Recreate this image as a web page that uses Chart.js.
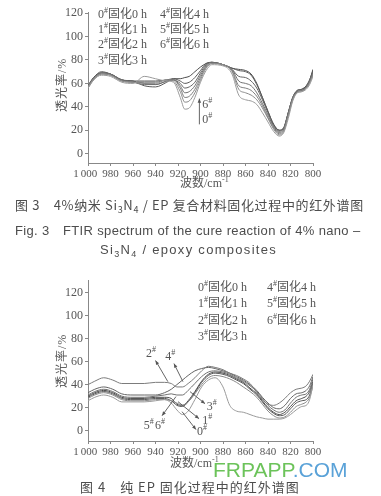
<!DOCTYPE html>
<html>
<head>
<meta charset="utf-8">
<script src="https://cdn.jsdelivr.net/npm/chart.js@4/dist/chart.umd.min.js"></script>
<style>
  html, body { margin:0; padding:0; background:#fff; }
  body { width:381px; height:496px; position:relative; overflow:hidden; }
  .abs { position:absolute; white-space:nowrap; color:#555; }
  .serif { font-family:"Liberation Serif","Noto Sans CJK SC",serif; font-size:12px; line-height:14px; }
  .cap { font-family:"Liberation Sans","Noto Sans CJK SC",sans-serif; font-size:13px; line-height:16px; color:#4d4d4d; }
  .cjk { font-family:"Noto Sans CJK SC",sans-serif; }
  sup.s { font-size:8px; vertical-align:5px; line-height:0; }
  sub.b { font-size:9px; vertical-align:-3px; line-height:0; }
  canvas { position:absolute; left:0; }
</style>
</head>
<body>
<canvas id="c1" width="381" height="200" style="top:0px"></canvas>
<canvas id="c2" width="381" height="200" style="top:265px"></canvas>

<!-- Fig 3 legend -->
<div class="abs serif" style="left:98px;top:7px">0<sup class="s">#</sup>固化0 h</div>
<div class="abs serif" style="left:98px;top:22px">1<sup class="s">#</sup>固化1 h</div>
<div class="abs serif" style="left:98px;top:37px">2<sup class="s">#</sup>固化2 h</div>
<div class="abs serif" style="left:98px;top:53px">3<sup class="s">#</sup>固化3 h</div>
<div class="abs serif" style="left:160px;top:7px">4<sup class="s">#</sup>固化4 h</div>
<div class="abs serif" style="left:160px;top:22px">5<sup class="s">#</sup>固化5 h</div>
<div class="abs serif" style="left:160px;top:37px">6<sup class="s">#</sup>固化6 h</div>
<div class="abs serif" style="left:36px;top:79px;transform:rotate(-90deg);transform-origin:26px 7px;width:52px;letter-spacing:1px">透光率/%</div>
<div class="abs serif" style="left:180px;top:176px">波数/cm<sup class="s">-1</sup></div>

<!-- Fig 3 caption -->
<div class="abs cap cjk" style="left:15px;top:197px;letter-spacing:0.65px">图 3　4%纳米 Si<sub class="b">3</sub>N<sub class="b">4</sub> / EP 复合材料固化过程中的红外谱图</div>
<div class="abs cap" style="left:15px;top:223px;letter-spacing:0.35px">Fig. 3　FTIR spectrum of the cure reaction of 4% nano –</div>
<div class="abs cap" style="left:100px;top:242px;letter-spacing:1.3px">Si<sub class="b">3</sub>N<sub class="b">4</sub> / epoxy composites</div>

<!-- Fig 4 legend -->
<div class="abs serif" style="left:198px;top:280px">0<sup class="s">#</sup>固化0 h</div>
<div class="abs serif" style="left:198px;top:296px">1<sup class="s">#</sup>固化1 h</div>
<div class="abs serif" style="left:198px;top:313px">2<sup class="s">#</sup>固化2 h</div>
<div class="abs serif" style="left:198px;top:329px">3<sup class="s">#</sup>固化3 h</div>
<div class="abs serif" style="left:267px;top:280px">4<sup class="s">#</sup>固化4 h</div>
<div class="abs serif" style="left:267px;top:296px">5<sup class="s">#</sup>固化5 h</div>
<div class="abs serif" style="left:267px;top:313px">6<sup class="s">#</sup>固化6 h</div>
<div class="abs serif" style="left:36px;top:355px;transform:rotate(-90deg);transform-origin:26px 7px;width:52px;letter-spacing:1px">透光率/%</div>
<div class="abs serif" style="left:170px;top:456px">波数/cm<sup class="s">-1</sup></div>

<!-- Fig 4 caption -->
<div class="abs cap cjk" style="left:80px;top:479px;letter-spacing:1px">图 4　纯 EP 固化过程中的红外谱图</div>

<!-- watermark -->
<div class="abs" style="left:213px;top:457px;font-family:'Liberation Sans',sans-serif;font-size:21px;line-height:26px"><span style="color:#6cc35a">FRPAPP</span><span style="color:#5aa2d8">.COM</span></div>

<script>
// ---------- Fig 3 data (4% nano Si3N4/EP) ----------
const wave3 = [1000, 995, 988, 980, 970, 960, 950, 940, 930, 924, 918, 914, 910, 905, 900, 895, 890, 880, 872, 866, 860, 855, 850, 845, 840, 835, 830, 826, 822, 818, 814, 810, 806, 803, 800];
const fig3_0h = [56, 63, 67, 66, 61, 60, 66, 64, 62, 61, 48, 38, 39, 48, 61, 71, 76, 75, 68, 50, 46, 45, 42, 35, 27, 19, 15, 18, 30, 45, 52, 53, 55, 59, 66];
const fig3_1h = [57, 64, 68, 67, 62, 61, 60, 60, 63, 62, 53, 44, 45, 52, 63, 73, 77, 76, 70, 55, 52, 50, 46, 39, 30, 21, 16, 19, 32, 46, 52, 53, 56, 60, 67];
const fig3_2h = [56, 63, 68, 67, 62, 61, 61, 61, 63, 63, 56, 48, 49, 55, 65, 74, 77, 76, 71, 58, 56, 54, 49, 41, 31, 22, 17, 20, 33, 47, 53, 54, 56, 61, 68];
const fig3_3h = [57, 64, 69, 68, 63, 61, 59, 59, 62, 63, 58, 52, 53, 58, 67, 75, 78, 76, 72, 62, 60, 58, 52, 43, 33, 23, 18, 21, 34, 47, 53, 54, 57, 62, 69];
const fig3_4h = [58, 64, 69, 68, 63, 62, 60, 59, 62, 63, 60, 56, 57, 61, 69, 76, 78, 76, 72, 66, 65, 62, 56, 46, 35, 24, 19, 22, 35, 48, 53, 54, 57, 62, 70];
const fig3_5h = [58, 65, 70, 68, 63, 62, 58, 57, 61, 64, 62, 60, 61, 65, 71, 77, 78, 76, 73, 71, 70, 67, 59, 48, 36, 25, 20, 22, 35, 48, 54, 55, 58, 63, 71];
const fig3_6h = [58, 65, 69, 68, 63, 62, 62, 62, 63, 64, 64, 65, 66, 70, 74, 77, 78, 76, 73, 72, 71, 68, 60, 48, 36, 25, 20, 22, 35, 48, 54, 55, 58, 63, 72];

// ---------- Fig 4 data (pure EP) ----------
const wave4 = [1000, 994, 986, 978, 970, 960, 950, 940, 932, 926, 921, 916, 911, 905, 899, 893, 887, 880, 874, 868, 862, 856, 850, 845, 840, 835, 830, 825, 820, 815, 810, 806, 803, 800];
const fig4_0h = [26, 29, 31, 29, 25, 25, 25, 26, 27, 24, 18, 14, 17, 27, 38, 44, 46, 38, 22, 17, 16, 14, 12, 11, 10, 10, 10, 11, 14, 18, 21, 22, 27, 40];
const fig4_1h = [28, 31, 33, 31, 27, 26, 26, 27, 27, 26, 24, 22, 25, 32, 40, 46, 48, 47, 45, 42, 38, 34, 29, 23, 17, 13, 11, 12, 16, 21, 23, 25, 29, 39];
const fig4_2h = [40, 43, 46, 44, 41, 41, 41, 42, 42, 41, 38, 38, 41, 46, 52, 56, 55, 53, 50, 48, 45, 41, 33, 27, 23, 22, 24, 28, 33, 36, 37, 39, 43, 49];
const fig4_3h = [31, 34, 36, 34, 30, 29, 29, 30, 31, 32, 31, 31, 35, 41, 47, 51, 52, 51, 49, 46, 43, 39, 34, 28, 22, 18, 16, 18, 24, 29, 31, 32, 36, 45];
const fig4_4h = [33, 36, 38, 36, 32, 31, 31, 31, 33, 36, 40, 44, 48, 52, 54, 55, 54, 52, 50, 47, 44, 40, 35, 29, 24, 20, 19, 22, 28, 32, 33, 35, 39, 47];
const fig4_5h = [29, 32, 34, 32, 28, 27, 27, 28, 28, 26, 22, 21, 25, 33, 42, 48, 50, 49, 47, 44, 41, 36, 31, 25, 19, 15, 13, 14, 19, 24, 26, 27, 31, 41];
const fig4_6h = [30, 33, 35, 33, 29, 28, 28, 29, 29, 28, 23, 22, 26, 34, 43, 49, 51, 50, 48, 45, 42, 37, 32, 26, 20, 16, 14, 16, 21, 26, 28, 30, 34, 43];

// tick values
const xTicks = [1000, 980, 960, 940, 920, 900, 880, 860, 840, 820, 800];
const yTicks = [0, 20, 40, 60, 80, 100, 120];

// annotations (data units: wavenumber, transmittance)
const fig3Arrows = [[901, 25, 901, 47]];
const fig3Labels = [['6', 894, 42], ['0', 894, 29]];
const fig4Arrows = [[929, 42.6, 940, 61], [915.6, 42.6, 923.6, 58.3], [921.8, 29.6, 934.2, 13], [909.3, 33.9, 896, 23.5], [920, 25.2, 901.3, 10.4], [916.4, 16.5, 904, 0.9]];
const fig4Labels = [['2', 944, 67], ['4', 927, 64], ['5', 946, 4], ['6', 936, 4], ['3', 890, 21], ['1', 894, 8.7], ['0', 898.7, -1]];

const grays = ['#9a9a9a', '#8a8a8a', '#7c7c7c', '#707070', '#646464', '#585858', '#4c4c4c'];

const annotPlugin = {
  id: 'annot',
  afterDatasetsDraw(chart, args, opts) {
    const ctx = chart.ctx, xs = chart.scales.x, ys = chart.scales.y;
    ctx.save();
    ctx.strokeStyle = '#555'; ctx.fillStyle = '#555'; ctx.lineWidth = 0.9;
    (opts.arrows || []).forEach(a => {
      const x1 = xs.getPixelForValue(a[0]), y1 = ys.getPixelForValue(a[1]);
      const x2 = xs.getPixelForValue(a[2]), y2 = ys.getPixelForValue(a[3]);
      ctx.beginPath(); ctx.moveTo(x1, y1); ctx.lineTo(x2, y2); ctx.stroke();
      const ang = Math.atan2(y2 - y1, x2 - x1), L = 4.5;
      ctx.beginPath();
      ctx.moveTo(x2, y2);
      ctx.lineTo(x2 - L * Math.cos(ang - 0.4), y2 - L * Math.sin(ang - 0.4));
      ctx.lineTo(x2 - L * Math.cos(ang + 0.4), y2 - L * Math.sin(ang + 0.4));
      ctx.closePath(); ctx.fill();
    });
    ctx.textBaseline = 'middle'; ctx.textAlign = 'left';
    (opts.labels || []).forEach(l => {
      const x = xs.getPixelForValue(l[1]), y = ys.getPixelForValue(l[2]);
      ctx.font = '12px "Liberation Serif", serif';
      const w = ctx.measureText(l[0]).width;
      ctx.fillText(l[0], x - 5, y);
      ctx.font = '8px "Liberation Serif", serif';
      ctx.fillText('#', x - 5 + w, y - 4);
    });
    ctx.restore();
  }
};

function makeChart(id, wave, series, ymin, ymax, pad, arrows, labels) {
  const datasets = series.map((s, i) => ({
    data: wave.map((w, k) => ({ x: w, y: s[k] })),
    borderColor: grays[i], borderWidth: 1, pointRadius: 0,
    cubicInterpolationMode: 'monotone', fill: false
  }));
  const axisCommon = {
    grid: { display: true, drawOnChartArea: false, drawTicks: true, tickLength: 3, color: '#888' },
    border: { display: true, color: '#888', dash: [1, 1.5], width: 1 },
    ticks: { color: '#555', font: { family: '"Liberation Serif", serif', size: 12 }, padding: 2, stepSize: 20, autoSkip: false, maxRotation: 0 }
  };
  return new Chart(document.getElementById(id), {
    type: 'line',
    data: { datasets },
    options: {
      responsive: false, animation: false,
      layout: { padding: pad },
      plugins: { legend: { display: false }, tooltip: { enabled: false }, annot: { arrows, labels } },
      scales: {
        x: Object.assign({}, axisCommon, {
          type: 'linear', reverse: true, min: 800, max: 1000,
          ticks: Object.assign({}, axisCommon.ticks, {
            font: { family: '"Liberation Serif", serif', size: 11 },
            callback: v => v === 1000 ? '1\u2009000\u2002' : String(v)
          }),
          afterBuildTicks: s => { s.ticks = xTicks.map(v => ({ value: v })); },
          afterFit: s => { s.height = 22; }
        }),
        y: Object.assign({}, axisCommon, {
          type: 'linear', min: ymin, max: ymax,
          afterBuildTicks: s => { s.ticks = yTicks.map(v => ({ value: v })); },
          afterFit: s => { s.width = 40; }
        })
      }
    },
    plugins: [annotPlugin]
  });
}

makeChart('c1', wave3, [fig3_0h, fig3_1h, fig3_2h, fig3_3h, fig3_4h, fig3_5h, fig3_6h], -8, 121,
  { left: 48, right: 68, top: 12, bottom: 15 }, fig3Arrows, fig3Labels);
makeChart('c2', wave4, [fig4_0h, fig4_1h, fig4_2h, fig4_3h, fig4_4h, fig4_5h, fig4_6h], -9, 131,
  { left: 48, right: 68, top: 15, bottom: 2 }, fig4Arrows, fig4Labels);
</script>
</body>
</html>
